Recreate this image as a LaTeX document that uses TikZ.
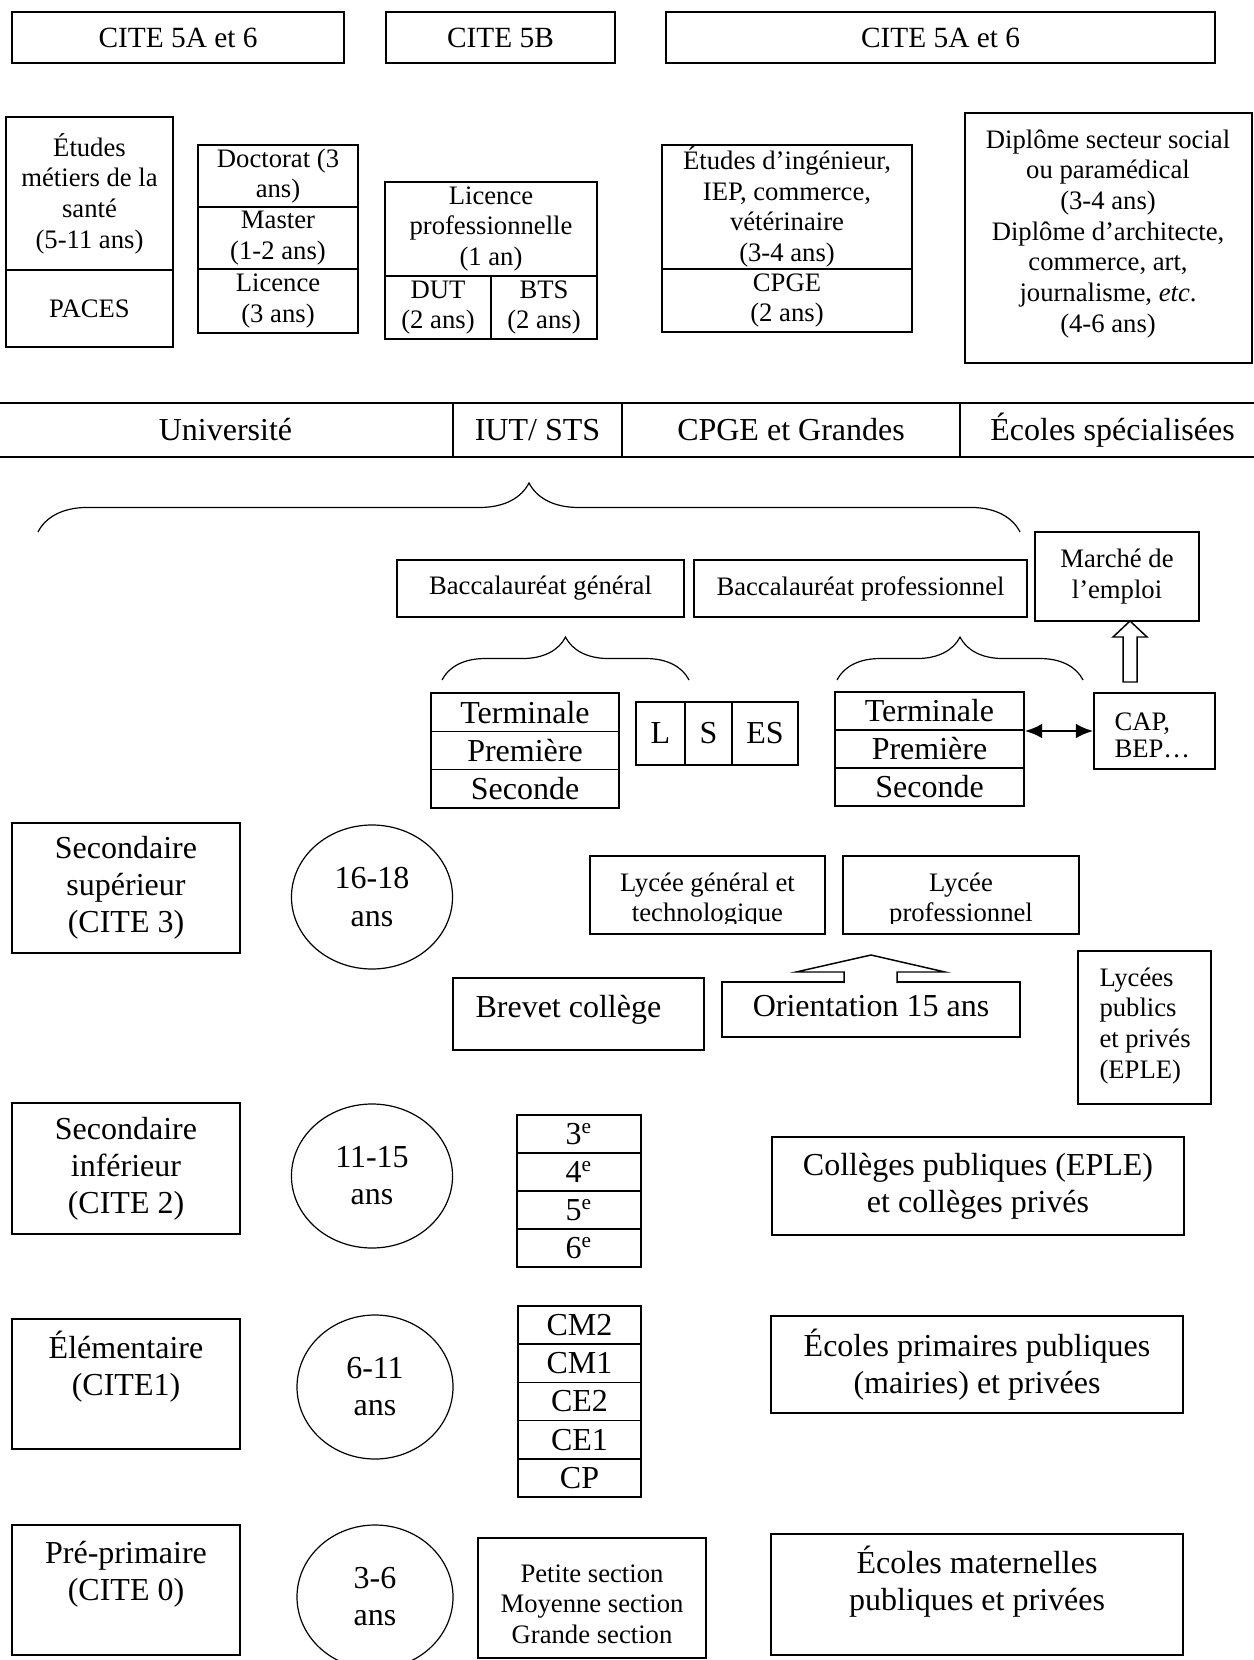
\documentclass[tikz,border=0pt]{standalone}
\usepackage{fontspec}
\setmainfont{Liberation Serif}
\usetikzlibrary{shapes.geometric,arrows.meta,decorations.pathreplacing}

\newcommand{\tgrand}{\fontsize{12}{13.9}\selectfont}
\newcommand{\tmoyen}{\fontsize{11}{12.7}\selectfont}
\newcommand{\tpetit}{\fontsize{10}{11.5}\selectfont}

\begin{document}
\begin{tikzpicture}[
    x=0.375pt, y=-0.375pt,
    cadre/.style={rectangle, draw, line width=0.55pt, inner sep=0pt, align=center},
    taille/.style 2 args={minimum width=#1*0.375pt, minimum height=#2*0.375pt},
    rond/.style={ellipse, draw, line width=0.45pt, inner sep=0pt,
        minimum width=60.4pt, minimum height=54pt, align=center, font=\tgrand},
    texte/.style={inner sep=0pt, align=center},
    accolade/.style={decorate, decoration={brace, amplitude=#1}, line width=0.45pt},
    bloc/.style={draw, fill=white, line width=0.55pt, line join=miter},
    lien/.style={{Latex[length=6.5pt,width=5.5pt]}-{Latex[length=6.5pt,width=5.5pt]}, line width=1pt}
]
    \fill[white] (0,0) rectangle (1253,1660);
    \useasboundingbox (0,0) rectangle (1253,1660);

    % niveaux CITE du superieur
    \node[cadre, taille={332}{51}, font=\tmoyen] (cite1) at (178,37.5) {CITE 5A et 6};
    \node[cadre, taille={229}{51}, font=\tmoyen] (cite2) at (500.5,37.5) {CITE 5B};
    \node[cadre, taille={549}{51}, font=\tmoyen] (cite3) at (940.5,37.5) {CITE 5A et 6};

    % diplomes du superieur
    \node[cadre, taille={167}{153}, font=\tpetit] (sante) at (89.5,193.5) {Études\\métiers de la\\santé\\(5-11 ans)};
    \node[cadre, taille={167}{77}, font=\tpetit] (paces) at (89.5,308.5) {PACES};
    \node[cadre, taille={160}{62}, font=\tpetit] (doct) at (278,176) {Doctorat (3\\ans)};
    \node[cadre, taille={160}{62}, font=\tpetit] (master) at (278,238) {Master\\(1-2 ans)};
    \node[cadre, taille={160}{64}, font=\tpetit] (licence) at (278,301) {Licence\\(3 ans)};
    \node[cadre, taille={212}{94}, font=\tpetit] (lpro) at (491,229) {Licence\\professionnelle\\(1 an)};
    \node[cadre, taille={106}{63}, font=\tpetit] (dut) at (438,307.5) {DUT\\(2 ans)};
    \node[cadre, taille={106}{63}, font=\tpetit] (bts) at (544,307.5) {BTS\\(2 ans)};
    \node[cadre, taille={250}{124}, font=\tpetit] (inge) at (787,207) {Études d’ingénieur,\\IEP, commerce,\\vétérinaire\\(3-4 ans)};
    \node[cadre, taille={250}{63}, font=\tpetit] (cpge) at (787,300.5) {CPGE\\(2 ans)};
    \node[cadre, taille={287}{250}] (ecspe) at (1108.5,238) {};
    \node[texte, font=\tpetit, anchor=north] (ecspeT) at (1108,129)
        {Diplôme secteur social\\ou paramédical\\(3-4 ans)\\Diplôme d’architecte,\\commerce, art,\\journalisme, \textit{etc}.\\(4-6 ans)};

    % etablissements du superieur
    \node[cadre, taille={455}{54}, font=\tgrand] (univ) at (225.5,430) {Université};
    \node[cadre, taille={169}{54}, font=\tgrand] (iut) at (537.5,430) {IUT/ STS};
    \node[cadre, taille={338}{54}, font=\tgrand] (grandes) at (791,430) {CPGE et Grandes};
    \node[cadre, taille={305}{54}, font=\tgrand] (ecoles) at (1112.5,430) {Écoles spécialisées};

    \draw[accolade=18.4pt] (38,532) -- (1020,532);

    % baccalaureats
    \node[cadre, taille={287}{57}, font=\tpetit] (bacg) at (540.5,588.5) {Baccalauréat général};
    \node[cadre, taille={333}{57}, font=\tpetit] (bacp) at (860.5,588.5) {Baccalauréat professionnel};
    \node[cadre, taille={164}{89}, font=\tpetit] (emploi) at (1117,576.5) {Marché de\\l’emploi};

    \draw[accolade=16.1pt] (442,680) -- (689,680);
    \draw[accolade=16.1pt] (837,680) -- (1083,680);

    % classes du lycee
    \foreach \classe [count=\i] in {Terminale,Première,Seconde}
        \node[cadre, taille={188}{38.3}, font=\tgrand] (lg\i) at (525,{712.15+38.3*(\i-1)}) {\classe};
    \node[cadre, taille={49}{63}, font=\tgrand] (serL) at (660.5,733.5) {L};
    \node[cadre, taille={47}{63}, font=\tgrand] (serS) at (708.5,733.5) {S};
    \node[cadre, taille={66}{63}, font=\tgrand] (serES) at (765,733.5) {ES};
    \foreach \classe [count=\i] in {Terminale,Première,Seconde}
        \node[cadre, taille={189}{38}, font=\tgrand] (lp\i) at (929.5,{711+38*(\i-1)}) {\classe};
    \node[cadre, taille={121}{76}] (cap) at (1154.5,731) {};
    \node[texte, font=\fontsize{10}{10.3}\selectfont, align=left, anchor=north west] (capT) at (1114,712) {CAP,\\BEP…};

    \draw[lien] (cap.west -| lp2.east) -- (cap.west);
    \draw[bloc] (1123,682) |- (1113,637) -- (1130,621) -- (1147,637) -| (1137,682) -- cycle;

    % secondaire superieur
    \node[cadre, taille={228}{130}, font=\tgrand] (niv3) at (126,888) {Secondaire\\supérieur\\(CITE 3)};
    \node[rond] (age3) at (372,897) {16-18\\ans};
    \node[cadre, taille={235}{78}] (lycgt) at (707.5,895) {};
    \node[cadre, taille={236}{78}] (lycpro) at (961,895) {};
    \begin{scope}
        \clip (590,856) rectangle (1079,923);
        \node[texte, font=\tpetit, anchor=north] (lycgtT) at (707.5,872) {Lycée général et\\technologique};
        \node[texte, font=\tpetit, anchor=north] (lycproT) at (961,872) {Lycée\\professionnel};
    \end{scope}
    \node[cadre, taille={251}{72}] (brevet) at (578.5,1014) {};
    \node[texte, font=\tgrand, anchor=base west] (brevetT) at (475,1017) {Brevet collège};
    \node[cadre, taille={298}{55}] (orient) at (871,1009.5) {};
    \node[texte, font=\tgrand, anchor=base] (orientT) at (871,1016) {Orientation 15 ans};
    \draw[bloc] (844,983) |- (796,972) -- (871,955) -- (945,972) -| (897,983);
    \node[cadre, taille={133}{153}] (eple) at (1144.5,1027.5) {};
    \node[texte, font=\tpetit, align=left, anchor=north west] (epleT) at (1099,967)
        {Lycées\\publics\\et privés\\(EPLE)};

    % secondaire inferieur
    \node[cadre, taille={228}{131}, font=\tgrand] (niv2) at (126,1168.5) {Secondaire\\inférieur\\(CITE 2)};
    \node[rond] (age2) at (372,1176) {11-15\\ans};
    \foreach \n [count=\i] in {3,4,5,6}
        \node[cadre, taille={124}{38}, font=\tgrand] (cl\n) at (579,{1134+38*(\i-1)}) {\n\textsuperscript{e}};
    \node[cadre, taille={412}{98}, font=\tgrand] (college) at (978,1186) {Collèges publiques (EPLE)\\et collèges privés};

    % elementaire
    \node[cadre, taille={228}{130}] (niv1) at (126,1384) {};
    \node[texte, font=\tgrand, anchor=north] (niv1T) at (126,1330) {Élémentaire\\(CITE1)};
    \node[rond, minimum width=58.5pt] (age1) at (375,1387) {6-11\\ans};
    \foreach \classe [count=\i] in {CM2,CM1,CE2,CE1,CP}
        \node[cadre, taille={123}{38.2}, font=\tgrand] (el\i) at (579.5,{1325.1+38.2*(\i-1)}) {\classe};
    \node[cadre, taille={412}{97}, font=\tgrand] (primaire) at (977,1364.5) {Écoles primaires publiques\\(mairies) et privées};

    % pre-primaire
    \node[cadre, taille={228}{130}] (niv0) at (126,1590) {};
    \node[texte, font=\tgrand, anchor=north] (niv0T) at (126,1541) {Pré-primaire\\(CITE 0)};
    \node[rond, minimum width=58.5pt] (age0) at (375,1597) {3-6\\ans};
    \node[cadre, taille={228}{120}] (sections) at (592,1598) {};
    \node[texte, font=\tpetit, anchor=north] (sectionsT) at (592,1564) {Petite section\\Moyenne section\\Grande section};
    \node[cadre, taille={412}{121}] (maternelle) at (977,1594.5) {};
    \node[texte, font=\tgrand, anchor=north] (maternelleT) at (977,1545) {Écoles maternelles\\publiques et privées};
\end{tikzpicture}
\end{document}
